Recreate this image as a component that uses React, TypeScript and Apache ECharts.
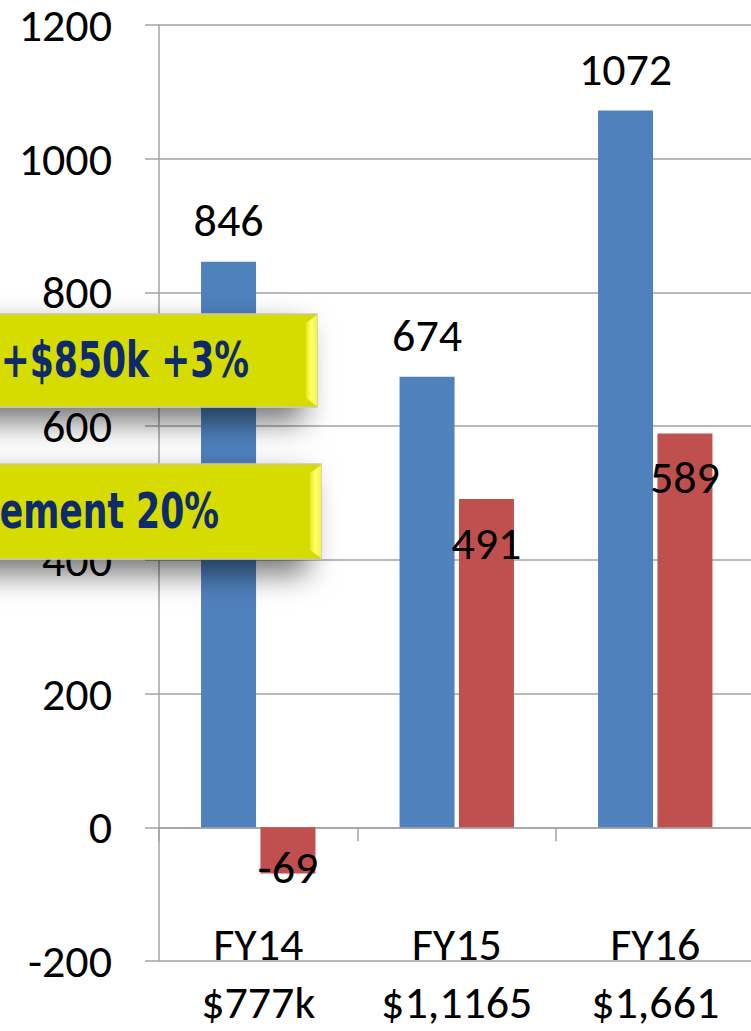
import React, { useEffect, useRef } from "react";
import * as echarts from "echarts";

const categories = ["FY14", "FY15", "FY16"];
const subLabels = ["$777k", "$1,1165", "$1,661"];
const blueValues = [846, 674, 1072];
const redValues = [-69, 491, 589];
const yTicks = { min: -200, max: 1200, interval: 200 };
const calloutTexts = ["+$850k +3%", "ement 20%"];

const FONT = "Carlito, Lato, 'Open Sans', sans-serif";
const GRID_COLOR = "#a3a3a3";

function callout(y0: number, y1: number, x1: number, text: string, textRight: number) {
  const h = y1 - y0;
  return {
    type: "group",
    children: [
      {
        type: "rect",
        shape: { x: -20, y: y0, width: x1 + 20, height: h },
        style: {
          fill: "#d6dc00",
          stroke: "#c9c9a8",
          lineWidth: 1.5,
          shadowBlur: 30,
          shadowOffsetX: -14,
          shadowOffsetY: 14,
          shadowColor: "rgba(0,0,0,0.55)",
        },
        z: 100,
      },
      {
        type: "polygon",
        shape: {
          points: [
            [x1 - 11, y0 + 9],
            [x1, y0 + 1],
            [x1, y1 - 1],
            [x1 - 11, y1 - 9],
          ],
        },
        style: {
          fill: new echarts.graphic.LinearGradient(0, 0, 1, 0, [
            { offset: 0, color: "#e6ea20" },
            { offset: 0.5, color: "#ffff70" },
            { offset: 1, color: "#f2f440" },
          ]),
        },
        z: 101,
      },
      {
        type: "text",
        x: textRight,
        y: (y0 + y1) / 2,
        scaleX: 0.77,
        style: {
          text,
          fill: "#0d2a6b",
          font: "bold 50px 'DejaVu Sans Condensed', sans-serif",
          align: "right",
          verticalAlign: "middle",
        },
        z: 102,
      },
    ],
  };
}

export default function App() {
  const ref = useRef<HTMLDivElement>(null);
  useEffect(() => {
    if (!ref.current) return;
    const chart = echarts.init(ref.current, undefined, { renderer: "svg" });
    const labelFont = { fontFamily: FONT, fontSize: 46, color: "#000", lineHeight: 54 };
    chart.setOption({
      animation: false,
      backgroundColor: "#fff",
      grid: { left: 159, top: 25, width: 595.5, height: 944, containLabel: false },
      xAxis: [
        {
          type: "category",
          data: categories,
          position: "bottom",
          axisLine: { show: true, onZero: true, lineStyle: { color: GRID_COLOR, width: 1.5 } },
          axisTick: { show: true, length: 14, inside: false, lineStyle: { color: GRID_COLOR, width: 1.5 } },
          axisLabel: { show: false },
          splitLine: { show: false },
        },
        {
          type: "category",
          data: categories,
          position: "bottom",
          offset: -46,
          axisLine: { show: false, onZero: false },
          axisTick: { show: false },
          axisLabel: {
            show: true,
            margin: 0,
            interval: 0,
            formatter: (v: string, i: number) => `${v}\n${subLabels[i]}`,
            fontFamily: FONT,
            fontSize: 46,
            lineHeight: 58,
            color: "#000",
          },
          splitLine: { show: false },
        },
      ],
      yAxis: {
        type: "value",
        min: yTicks.min,
        max: yTicks.max,
        interval: yTicks.interval,
        axisLine: { show: true, lineStyle: { color: GRID_COLOR, width: 1.5 } },
        axisTick: { show: true, length: 14, inside: false, lineStyle: { color: GRID_COLOR, width: 1.5 } },
        axisLabel: {
          margin: 47,
          fontFamily: FONT,
          fontSize: 46,
          lineHeight: 36,
          color: "#000",
          formatter: (v: number) => String(v),
        },
        splitLine: { show: true, lineStyle: { color: GRID_COLOR, width: 1.5 } },
      },
      series: [
        {
          type: "bar",
          name: "blue",
          data: blueValues,
          xAxisIndex: 0,
          barWidth: 55,
          barGap: "8%",
          itemStyle: { color: "#4f81bd" },
          label: { show: true, position: "top", distance: 15, ...labelFont },
        },
        {
          type: "bar",
          name: "red",
          xAxisIndex: 0,
          barWidth: 55,
          barGap: "8%",
          itemStyle: { color: "#c0504d" },
          data: redValues.map((v) =>
            v < 0
              ? { value: v, label: { position: "insideBottom", distance: 0, offset: [0, 21] } }
              : { value: v }
          ),
          label: { show: true, position: "insideTop", distance: 17, ...labelFont },
        },
      ],
      graphic: [
        callout(314, 407, 317, calloutTexts[0], 249),
        callout(464, 559, 321, calloutTexts[1], 219),
      ],
    });
    return () => chart.dispose();
  }, []);
  return (
    <div style={{ position: "fixed", left: 0, top: 0, width: 751, height: 1031, overflow: "hidden", background: "#fff" }}>
      <div ref={ref} style={{ width: 800, height: 1031 }} />
    </div>
  );
}
